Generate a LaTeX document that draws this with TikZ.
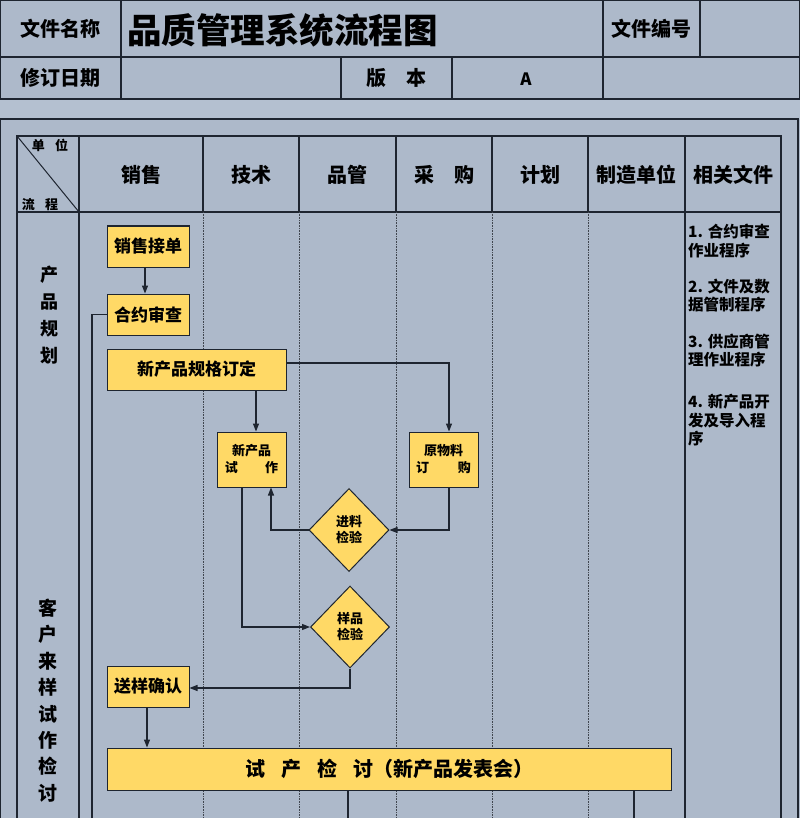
\documentclass[tikz,border=0pt]{standalone}
\usepackage{fontspec}
\setmainfont{Noto Sans CJK SC}
\usetikzlibrary{shapes.geometric,arrows.meta}
\definecolor{bgc}{HTML}{ADB9CA}
\definecolor{bandc}{HTML}{B4C0D0}
\definecolor{boxc}{HTML}{FFD966}
\definecolor{linec}{HTML}{1E2530}
\tikzset{
 gridl/.style={draw=linec, line width=1.2pt},
 dotl/.style={draw=linec!85, line width=0.6pt, densely dotted},
 pbox/.style={rectangle, draw=linec, line width=1pt, fill=boxc, inner sep=0pt, align=center, font=\bfseries\fontsize{17}{20}\selectfont},
 sbox/.style={pbox, font=\bfseries\fontsize{13}{17}\selectfont},
 pdia/.style={diamond, draw=linec, line width=1pt, fill=boxc, inner sep=0pt, align=center, font=\bfseries\fontsize{13}{16}\selectfont},
 conn/.style={draw=linec, line width=1.1pt},
 arr/.style={conn, -{Triangle[length=8pt,width=6pt]}},
 hdr/.style={font=\bfseries\fontsize{20}{24}\selectfont, inner sep=0pt},
 doc/.style={anchor=west, inner sep=0pt, font=\bfseries\fontsize{15.5}{18}\selectfont},
 vtxt/.style={inner sep=0pt, align=center},
}
\begin{document}
\begin{tikzpicture}[x=1pt,y=-1pt]
\useasboundingbox (0,0) rectangle (800,818);
\clip (0,0) rectangle (800,818);
\fill[bgc] (0,0) rectangle (800,818);
% ---------- top table ----------
\fill[bandc] (0,99) rectangle (800,119);
\draw[gridl] (0.8,0.8) rectangle (799.2,99);
\draw[gridl] (0,57) -- (800,57);
\draw[gridl] (121,0) -- (121,99);
\draw[gridl] (603,0) -- (603,99);
\draw[gridl] (700,0) -- (700,57);
\draw[gridl] (341,57) -- (341,99);
\draw[gridl] (452,57) -- (452,99);
\node[hdr] (h1) at (60,29) {文件名称};
\node[anchor=west, inner sep=0pt, font=\bfseries\fontsize{34.5}{38}\selectfont] (title) at (127,30) {品质管理系统流程图};
\node[hdr] (h2) at (651,29) {文件编号};
\node[hdr] (h3) at (60,78) {修订日期};
\node[hdr] (h4) at (396,78) {版\hspace{1em}本};
\node[hdr, font=\bfseries\fontsize{17}{20}\selectfont] (h5) at (526,79) {A};
% ---------- lower panel ----------
\draw[gridl] (0.8,119) rectangle (798,830);
\draw[gridl] (17,136) rectangle (781,830);
\draw[gridl] (17,212) -- (781,212);
\draw[gridl] (79,136) -- (79,818);
\draw[gridl] (685,136) -- (685,818);
\foreach \xx in {203,299,396,492,588} {
  \draw[gridl] (\xx,136) -- (\xx,212);
  \draw[dotl] (\xx,212) -- (\xx,818);
}
\draw[draw=linec, line width=1pt] (17,136) -- (79,212);
\node[inner sep=0pt, font=\bfseries\fontsize{13}{15}\selectfont] (cu) at (50,145) {单\hspace{0.8em}位};
\node[inner sep=0pt, font=\bfseries\fontsize{13}{15}\selectfont] (cl) at (40,205) {流\hspace{0.8em}程};
\node[hdr] (c1) at (141,175) {销售};
\node[hdr] (c2) at (251,175) {技术};
\node[hdr] (c3) at (347,175) {品管};
\node[hdr] (c4) at (444,175) {采\hspace{1em}购};
\node[hdr] (c5) at (540,175) {计划};
\node[hdr] (c6) at (636,175) {制造单位};
\node[hdr] (c7) at (733,175) {相关文件};
% left column
\node[vtxt, font=\bfseries\fontsize{18}{27}\selectfont] (lc1) at (49,315) {产\\品\\规\\划};
\node[vtxt, font=\bfseries\fontsize{19}{26.4}\selectfont] (lc2) at (48,700.5) {客\\户\\来\\样\\试\\作\\检\\讨};
% related documents
\node[doc] (d1) at (688,231) {1. 合约审查};
\node[doc] (d2) at (688,251) {作业程序};
\node[doc] (d3) at (688,287) {2. 文件及数};
\node[doc] (d4) at (688,305) {据管制程序};
\node[doc] (d5) at (688,342) {3. 供应商管};
\node[doc] (d6) at (688,360) {理作业程序};
\node[doc] (d7) at (688,402) {4. 新产品开};
\node[doc] (d8) at (688,421) {发及导入程};
\node[doc] (d9) at (688,439) {序};
% ---------- process nodes ----------
\node[pbox, minimum width=82pt, minimum height=41pt] (xs) at (148,246.5) {销售接单};
\node[pbox, minimum width=82pt, minimum height=41pt] (ht) at (148,314.5) {合约审查};
\node[pbox, minimum width=179pt, minimum height=41pt] (spec) at (196.5,369.5) {新产品规格订定};
\node[sbox, minimum width=69pt, minimum height=55pt] (sc) at (251.5,459.5) {新产品\\试\hspace{2.1em}作};
\node[sbox, minimum width=69pt, minimum height=55pt] (ylk) at (443.5,459.5) {原物料\\订\hspace{2.2em}购};
\node[pdia, minimum width=80pt, minimum height=83pt] (jl) at (349,530) {进料\\检验};
\node[pdia, minimum width=79pt, minimum height=82pt] (yp) at (350,627) {样品\\检验};
\node[pbox, minimum width=82pt, minimum height=41pt] (syqr) at (148,686.5) {送样确认};
\node[pbox, minimum width=564pt, minimum height=42pt, font=\bfseries\fontsize{20}{24}\selectfont] (rev) at (389,769) {试\hspace{0.8em}产\hspace{0.8em}检\hspace{0.8em}讨（新产品发表会）};
% ---------- connectors ----------
\coordinate (e1) at (92,818);
\coordinate (e2) at (348,818);
\coordinate (e3) at (634,818);
\coordinate (p0) at ([xshift=-3pt]xs.south);
\coordinate (p1) at ([xshift=4.5pt]sc.north);
\coordinate (p2) at ([xshift=5.5pt]ylk.south);
\coordinate (p3) at ([xshift=19.5pt]sc.south);
\coordinate (p4) at ([xshift=-9.5pt]sc.south);
\coordinate (p5) at ([xshift=-1pt]syqr.south);
\draw[arr] (p0) -- (p0 |- ht.north);
\draw[conn] (ht.west) -| (e1);
\draw[arr] ([yshift=6.5pt]spec.east) -| ([xshift=5.5pt]ylk.north);
\draw[arr] (p1 |- spec.south) -- (p1);
\draw[arr] (p2) |- (jl.east);
\draw[arr] (jl.west) -| (p3);
\draw[arr] (p4) |- (yp.west);
\draw[arr] (yp.south) |- ([yshift=-1.5pt]syqr.east);
\draw[arr] (p5) -- (p5 |- rev.north);
\draw[conn] (rev.south -| e2) -- (e2);
\draw[conn] (rev.south -| e3) -- (e3);
\end{tikzpicture}
\end{document}
